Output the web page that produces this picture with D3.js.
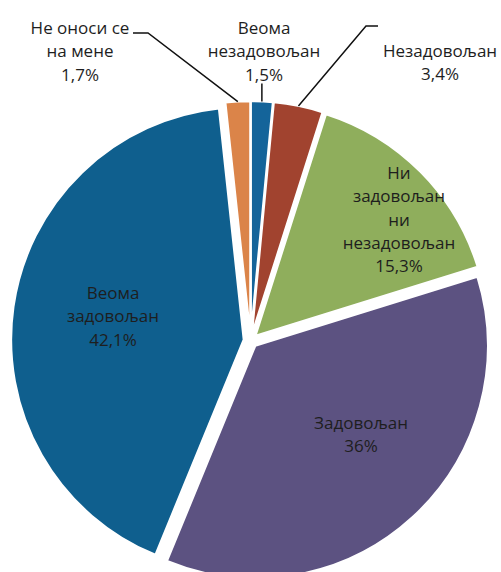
<!DOCTYPE html>
<html>
<head>
<meta charset="utf-8">
<script src="https://cdn.jsdelivr.net/npm/d3@7"></script>
<style>
  html, body { margin: 0; padding: 0; background: #fff; }
  svg { display: block; }
  text { font-family: "Open Sans", "Noto Sans", sans-serif; fill: #1e1e1e; }
</style>
</head>
<body>
<svg id="chart" width="501" height="572"></svg>
<script>
// ---- data ----
const categories = [
  "Веома незадовољан",
  "Незадовољан",
  "Ни задовољан ни незадовољан",
  "Задовољан",
  "Веома задовољан",
  "Не оноси се на мене"
];
const labelLines = [
  ["Веома", "незадовољан"],
  ["Незадовољан"],
  ["Ни", "задовољан", "ни", "незадовољан"],
  ["Задовољан"],
  ["Веома", "задовољан"],
  ["Не оноси се", "на мене"]
];
const values = [1.5, 3.4, 15.3, 36, 42.1, 1.7];
const valueLabels = ["1,5%", "3,4%", "15,3%", "36%", "42,1%", "1,7%"];
const colors = ["#14649a", "#a1432f", "#8fae5c", "#5c5281", "#0f5f8e", "#db8449"];

// ---- layout ----
const W = 501, H = 572;
const cx = 250.6, cy = 340.7, R = 232.5, explode = 7;
const fontSize = 17, lineH = 23.3;

// label anchor (center of first line) ; outside labels get leader lines
const labelLayout = [
  { x: 264, y: 27, outside: true, leader: "vertical" },
  { x: 440, y: 50, outside: true, leader: [[378, 26], [366, 26]] },
  { x: 399, y: 172 },
  { x: 361, y: 422 },
  { x: 113, y: 292 },
  { x: 80, y: 27, outside: true, leader: [[133, 33], [148, 33]] }
];

const svg = d3.select("#chart");
const g = svg.append("g").attr("transform", `translate(${cx},${cy})`);

const pie = d3.pie().sort(null).value(d => d).startAngle(0).endAngle(2 * Math.PI);
const arcs = pie(values);
const arc = d3.arc().innerRadius(0).outerRadius(R);

function offsetFor(d) {
  const a = (d.startAngle + d.endAngle) / 2;
  return [Math.sin(a) * explode, -Math.cos(a) * explode];
}

g.selectAll("path.slice")
  .data(arcs)
  .join("path")
  .attr("class", "slice")
  .attr("d", arc)
  .attr("transform", d => { const o = offsetFor(d); return `translate(${o[0]},${o[1]})`; })
  .attr("fill", (d, i) => colors[i])
  .attr("stroke", "#fff")
  .attr("stroke-width", 2)
  .attr("stroke-linejoin", "round");

// labels
const lblG = svg.append("g");
arcs.forEach((d, i) => {
  const L = labelLayout[i];
  const lines = labelLines[i].concat([valueLabels[i]]);
  const t = lblG.append("text")
    .attr("text-anchor", "middle")
    .attr("font-size", fontSize)
    .attr("dominant-baseline", "central");
  lines.forEach((ln, k) => {
    t.append("tspan").attr("x", L.x).attr("y", L.y + k * lineH).text(ln);
  });
  if (L.outside) {
    const a = (d.startAngle + d.endAngle) / 2;
    const o = offsetFor(d);
    const px = cx + o[0] + Math.sin(a) * R;
    const py = cy + o[1] - Math.cos(a) * R;
    let pts;
    if (L.leader === "vertical") {
      pts = [[px, L.y + (lines.length - 1) * lineH + 10], [px, py]];
    } else {
      pts = L.leader.concat([[px, py]]);
    }
    lblG.append("path")
      .attr("d", d3.line()(pts))
      .attr("fill", "none")
      .attr("stroke", "#111")
      .attr("stroke-width", 1.5);
  }
});
</script>
</body>
</html>
